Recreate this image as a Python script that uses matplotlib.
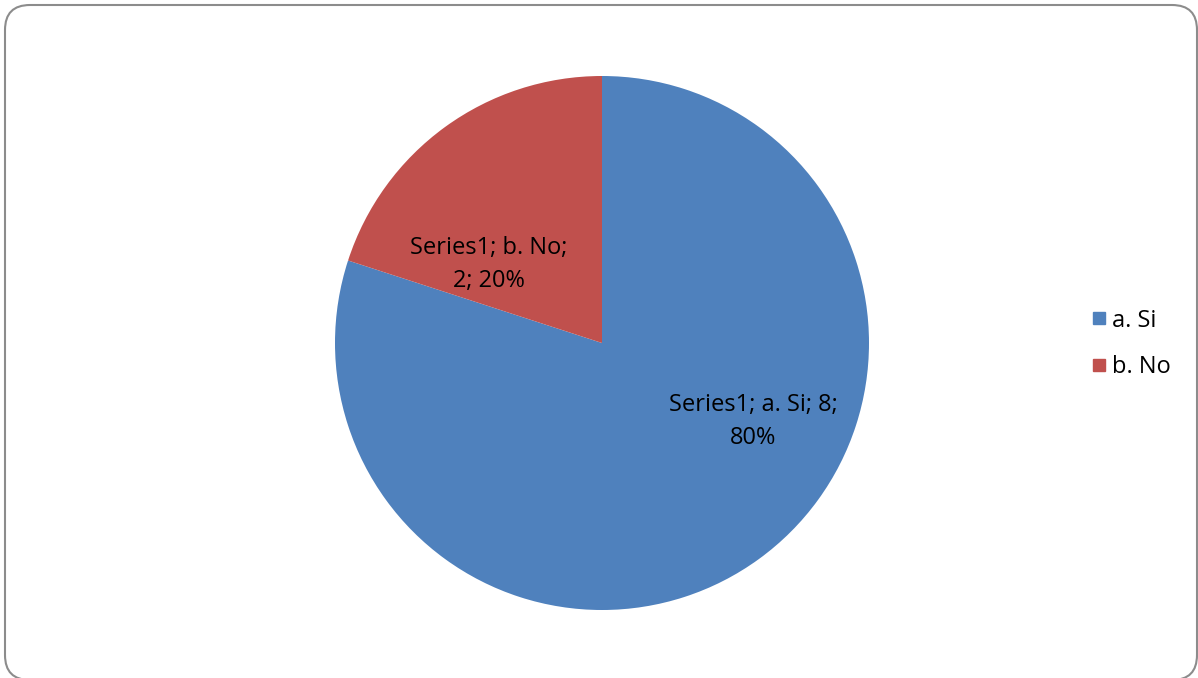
import matplotlib
matplotlib.use("Agg")
import matplotlib.pyplot as plt
from matplotlib.patches import FancyBboxPatch
from matplotlib.lines import Line2D
from matplotlib.transforms import IdentityTransform

categories = ["a. Si", "b. No"]
values = [8, 2]
series_name = "Series1"
colors = ["#4F81BD", "#C0504D"]

plt.rcParams['font.family'] = ['Open Sans', 'DejaVu Sans']

W, H = 1198, 678
fig = plt.figure(figsize=(W/100, H/100), dpi=100)

# rounded border (pixel coordinates)
border = FancyBboxPatch((5, H - 680), 1192, 675,
                        boxstyle="round,pad=0,rounding_size=25",
                        transform=IdentityTransform(), fill=False,
                        edgecolor="#8c8c8c", linewidth=1.5)
fig.patches.append(border)

cx, cy, r = 602, 343, 267
ax = fig.add_axes([(cx - r)/W, (H - cy - r)/H, 2*r/W, 2*r/H])
wedges, _ = ax.pie(values, colors=colors, startangle=90, counterclock=False,
                   radius=1, wedgeprops=dict(linewidth=0))
ax.set_xlim(-1, 1)
ax.set_ylim(-1, 1)
ax.set_aspect('equal')
ax.axis('off')

total = sum(values)
label_pos = [(0.567, -0.293), (-0.423, 0.293)]
texts = [f"{series_name}; {categories[0]}; {values[0]};\n{values[0]/total*100:.0f}%",
         f"{series_name}; {categories[1]};\n{values[1]}; {values[1]/total*100:.0f}%"]
for t, (x, y) in zip(texts, label_pos):
    ax.text(x, y, t, ha='center', va='center', fontsize=17, color='black',
            linespacing=1.5)

handles = [Line2D([], [], marker='s', linestyle='none', markersize=9,
                  markerfacecolor=c, markeredgecolor=c) for c in colors]
fig.legend(handles, categories, loc='center left',
           bbox_to_anchor=(1081/W, 1 - 344/H), frameon=False,
           fontsize=17, handlelength=0.7, handletextpad=0.2,
           labelspacing=0.97, borderaxespad=0)

fig.savefig("out.png", dpi=100)
